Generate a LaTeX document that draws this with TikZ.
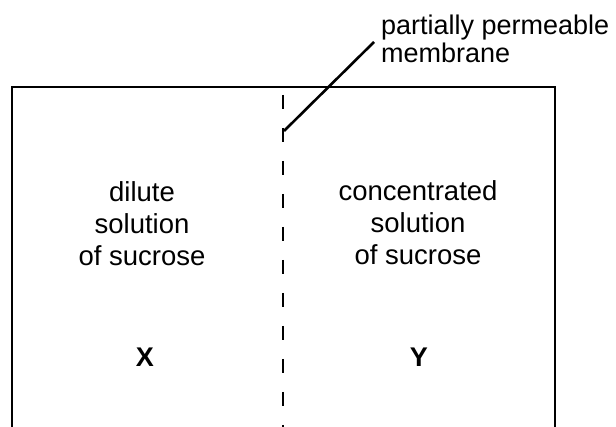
\documentclass[tikz,border=0pt]{standalone}
\usepackage{fontspec}
\setmainfont{Liberation Sans}
\begin{document}
\begin{tikzpicture}[x=1pt,y=-1pt,
  lbl/.style={inner sep=0pt,anchor=base,font=\fontsize{27.5}{32}\selectfont},
  lblw/.style={inner sep=0pt,anchor=base west,font=\fontsize{27}{32}\selectfont},
  big/.style={inner sep=0pt,anchor=base,font=\fontsize{27}{32}\selectfont\bfseries},
  wall/.style={line width=2.6pt,line join=miter},
  memline/.style={line width=2.6pt,dash pattern=on 14pt off 19pt},
  leader/.style={line width=2.6pt}]
\useasboundingbox (0,0) rectangle (616,427);
% container
\draw[wall] (12,427) -- (12,87) -- (555,87) -- (555,427);
% membrane
\coordinate (mtop) at (283,95);
\coordinate (mbot) at (283,427);
\draw[memline] (mtop) -- (mbot);
% label
\node[lblw] (t1) at (381,35) {partially permeable};
\node[lblw] (t2) at (381,63) {membrane};
\coordinate (tip) at (284,131);
\coordinate (lead) at (374,42);
\draw[leader] (tip) -- (lead);
% left
\node[lbl] (l1) at (142,202) {dilute};
\node[lbl] (l2) at (142,234) {solution};
\node[lbl] (l3) at (142,266) {of sucrose};
\node[big] (X) at (145,367) {X};
% right
\node[lbl] (r1) at (418,201) {concentrated};
\node[lbl] (r2) at (418,233) {solution};
\node[lbl] (r3) at (418,265) {of sucrose};
\node[big] (Y) at (419,367) {Y};
\end{tikzpicture}
\end{document}
